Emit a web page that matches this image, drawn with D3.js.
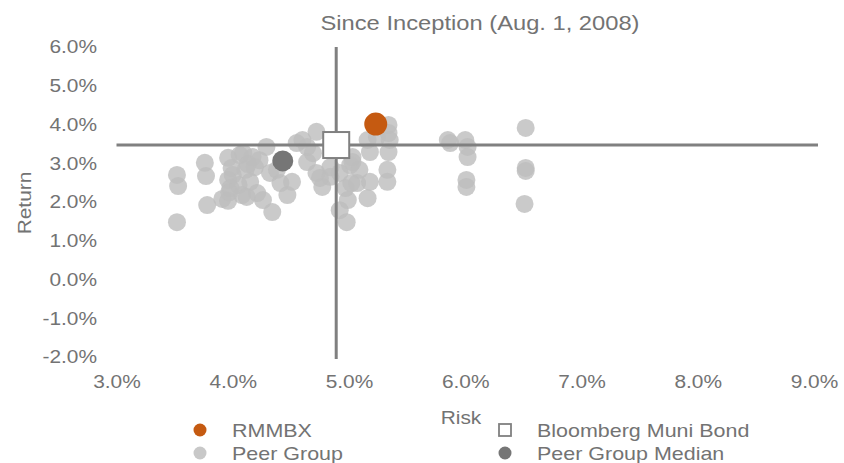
<!DOCTYPE html>
<html>
<head>
<meta charset="utf-8">
<script src="https://cdn.jsdelivr.net/npm/d3@7"></script>
<style>
  body { margin: 0; background: #fff; }
  #chart { width: 844px; height: 463px; }
  text { font-family: "Liberation Sans", Arial, sans-serif; fill: #737373; }
</style>
</head>
<body>
<div id="chart"></div>
<script>

// peer group funds: [risk %, return %]
const peerRisk = [3.52, 3.53, 3.52, 3.76, 3.77, 3.78, 3.91, 3.96, 3.96, 4.06,
  4.17, 3.99, 4.11, 4.19, 3.96, 4.05, 4.15, 4.08, 4.21, 4.26,
  4.34, 4.29, 4.23, 4.32, 4.41, 4.51, 4.55, 4.60, 4.72, 4.69,
  4.64, 4.72, 4.77, 4.92, 4.97, 4.92, 4.98, 5.03, 5.07, 5.34,
  5.34, 5.34, 5.16, 5.18, 5.33, 5.33, 5.18, 5.16, 5.01, 4.99,
  5.24, 5.35, 5.09, 4.84, 4.47, 4.38, 5.85, 5.87, 6.00, 6.02,
  6.02, 6.01, 6.01, 6.52, 6.52, 6.52, 6.51, 3.98, 4.09, 4.12,
  4.75, 4.84, 5.02, 5.03, 4.64, 4.00, 4.13, 3.97];
const peerReturn = [2.70, 2.41, 1.48, 3.01, 2.67, 1.92, 2.08, 2.03, 3.14, 3.21,
  3.16, 2.88, 2.83, 2.90, 2.57, 2.44, 2.52, 2.18, 2.23, 2.05,
  1.74, 3.42, 3.08, 2.75, 2.49, 2.52, 3.52, 3.60, 3.81, 3.26,
  3.03, 2.75, 2.39, 2.75, 2.36, 1.79, 1.48, 3.03, 2.49, 3.99,
  3.78, 3.29, 3.60, 3.29, 2.83, 2.52, 2.52, 2.10, 2.95, 2.05,
  3.68, 3.60, 2.83, 2.65, 2.18, 2.83, 3.60, 3.52, 3.60, 3.42,
  3.16, 2.57, 2.39, 3.91, 2.88, 2.80, 1.95, 2.36, 3.26, 2.13,
  2.62, 2.90, 2.49, 3.16, 3.42, 2.70, 2.98, 2.25];

const fund = { name: "RMMBX", risk: 5.23, ret: 4.01 };
const benchmark = { name: "Bloomberg Muni Bond", risk: 4.89, ret: 3.47 };
const median = { name: "Peer Group Median", risk: 4.43, ret: 3.06 };

const xTicks = [3, 4, 5, 6, 7, 8, 9];
const yTicks = [-2, -1, 0, 1, 2, 3, 4, 5, 6];

const peers = peerRisk.map(function (r, i) { return { risk: r, ret: peerReturn[i] }; });

/*
  CANVAS
*/
const width = 844;
const height = 463;
const sx = 1.13; // text in the source is a little wide

const svg = d3.select("#chart")
  .append("svg")
  .attr("width", width)
  .attr("height", height);

const xScale = d3.scaleLinear()
  .domain([3, 9])
  .range([116.5, 814]);

const yScale = d3.scaleLinear()
  .domain([-2, 6])
  .range([357, 47]);

function addText(x, y, str, size, anchor, rotate) {
  return svg.append("text")
    .attr("transform", `translate(${x},${y})` + (rotate ? ` rotate(${rotate})` : "") + ` scale(${sx},1)`)
    .attr("text-anchor", anchor || "start")
    .style("font-size", size + "px")
    .text(str);
}

/*
  AXES (labels only)
*/
const fmt = function (d) { return d.toFixed(1) + "%"; };

const xAxis = svg.append("g")
  .attr("transform", `translate(0,${389 - 14})`)
  .call(d3.axisBottom(xScale).tickValues(xTicks).tickFormat(fmt).tickSize(0).tickPadding(0));

const yAxis = svg.append("g")
  .attr("transform", "translate(97,0)")
  .call(d3.axisLeft(yScale).tickValues(yTicks).tickFormat(fmt).tickSize(0).tickPadding(0));

svg.selectAll(".domain").remove();
svg.selectAll(".tick text")
  .attr("fill", "#737373")
  .style("font-size", "18.5px")
  .style("font-family", "Liberation Sans, Arial, sans-serif")
  .attr("transform", `scale(${sx},1)`);
xAxis.selectAll(".tick text").attr("dy", "0.71em").attr("y", 0);

/*
  PEER DOTS
*/
svg.append("g")
  .selectAll("circle")
  .data(peers)
  .enter()
  .append("circle")
  .attr("cx", function (d) { return xScale(d.risk); })
  .attr("cy", function (d) { return yScale(d.ret); })
  .attr("r", 9)
  .attr("fill", "#bdbdbd")
  .attr("fill-opacity", 0.8);

/*
  CROSSHAIR THROUGH BENCHMARK
*/
svg.append("line")
  .attr("x1", xScale(3)).attr("x2", xScale(9) + 4)
  .attr("y1", yScale(benchmark.ret)).attr("y2", yScale(benchmark.ret))
  .attr("stroke", "#808080")
  .attr("stroke-width", 3);

svg.append("line")
  .attr("x1", xScale(benchmark.risk)).attr("x2", xScale(benchmark.risk))
  .attr("y1", yScale(6)).attr("y2", yScale(-2) + 2)
  .attr("stroke", "#808080")
  .attr("stroke-width", 3);

svg.append("circle")
  .attr("cx", xScale(median.risk))
  .attr("cy", yScale(median.ret))
  .attr("r", 10.5)
  .attr("fill", "#767676");

svg.append("rect")
  .attr("x", xScale(benchmark.risk) - 13)
  .attr("y", yScale(benchmark.ret) - 13)
  .attr("width", 26)
  .attr("height", 26)
  .attr("fill", "#fff")
  .attr("stroke", "#808080")
  .attr("stroke-width", 2);

svg.append("circle")
  .attr("cx", xScale(fund.risk))
  .attr("cy", yScale(fund.ret))
  .attr("r", 11.5)
  .attr("fill", "#c55a11");

/*
  TITLES
*/
addText(480, 30, "Since Inception (Aug. 1, 2008)", 21, "middle");
addText(461, 424, "Risk", 18.5, "middle");
addText(31, 203, "Return", 18.5, "middle", -90);

/*
  LEGEND
*/
const legend = svg.append("g");
legend.append("circle").attr("cx", 200).attr("cy", 430).attr("r", 6.5).attr("fill", "#c55a11");
legend.append("circle").attr("cx", 200).attr("cy", 453).attr("r", 6.5).attr("fill", "#c8c8c8");
legend.append("rect").attr("x", 499).attr("y", 424).attr("width", 12).attr("height", 12)
  .attr("fill", "#fff").attr("stroke", "#808080").attr("stroke-width", 1.8);
legend.append("circle").attr("cx", 505).attr("cy", 453).attr("r", 6.5).attr("fill", "#767676");

addText(232, 437, fund.name, 19);
addText(232, 460, "Peer Group", 19);
addText(537, 437, benchmark.name, 19);
addText(537, 460, median.name, 19);

</script>
</body>
</html>
